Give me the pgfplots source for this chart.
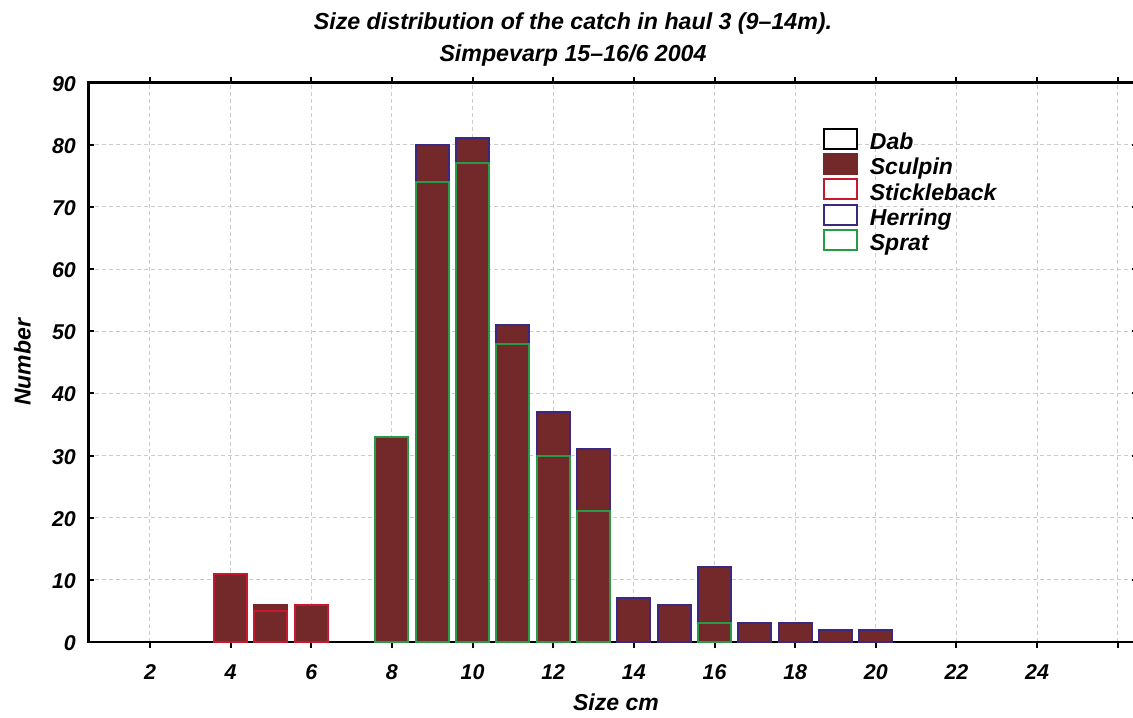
\documentclass[border=0pt]{standalone}
\usepackage{pgfplots}
\pgfplotsset{compat=1.18}
\usepackage{fontspec}
\setmainfont{Liberation Sans}
\definecolor{barfill}{RGB}{115,40,41}
\definecolor{stickred}{RGB}{200,24,48}
\definecolor{herrblue}{RGB}{60,40,128}
\definecolor{spratgreen}{RGB}{40,155,70}
\pgfplotsset{layers/barsfront/.define layer set={axis background,axis grid,main,axis ticks,axis lines,axis tick labels,axis descriptions,axis foreground}{}}
\pgfplotsset{boxlegend/.style={legend image code/.code={\path[draw=none,fill=none] (0pt,0pt) -- (23.5pt,0pt); \draw[line width=1pt,##1] (0.5pt,-2.65pt) rectangle (17pt,7.35pt);}}}
\newcommand{\tickfont}{\bfseries\itshape\fontsize{10.7}{12}\selectfont}
\newcommand{\labfont}{\bfseries\itshape\fontsize{11.5}{13}\selectfont}
\begin{document}
\begin{tikzpicture}
\begin{axis}[
  set layers=barsfront,
  at={(0,0)}, anchor=south west,
  scale only axis, width=524.8pt, height=279.75pt,
  xmin=0.47, xmax=26.5, ymin=0, ymax=90,
  xtick={2,4,...,26},
  xticklabels={2,4,6,8,10,12,14,16,18,20,22,24,{}},
  ytick={0,10,...,90},
  tick align=inside, major tick length=3pt,
  every tick/.style={black, line width=1pt},
  axis line style={line width=1.2pt},
  grid=major,
  major grid style={gray!40, line width=0.5pt, dash pattern=on 2pt off 1.5pt},
  ybar, bar width=0.82, bar shift=0pt,
  /pgf/number format/assume math mode=true,
  xticklabel style={font=\tickfont, anchor=base, inner sep=0pt, yshift=-15.5pt},
  yticklabel style={font=\tickfont, anchor=base east, inner sep=0pt, xshift=-6pt, yshift=-4.3pt},
  xlabel={Size cm},
  xlabel style={font=\labfont, at={(axis description cs:0.5027,0)}, anchor=base, yshift=-34pt},
  ylabel={Number},
  ylabel style={font=\labfont, at={(axis description cs:-0.0628,0.5)}, anchor=center},
  legend style={at={(axis description cs:0.6995,0.9194)}, anchor=north west,
    draw=none, fill=none, inner sep=0pt, row sep=-0.5pt, font=\labfont,
    nodes={inner sep=0pt, text height=8.2pt, text depth=2.3pt}},
  legend cell align=left,
]
\addlegendimage{boxlegend, draw=black, fill=white}
\addlegendimage{boxlegend, draw=barfill, fill=barfill}
\addlegendimage{boxlegend, draw=stickred, fill=white}
\addlegendimage{boxlegend, draw=herrblue, fill=white}
\addlegendimage{boxlegend, draw=spratgreen, fill=white}
% Dab: zero counts drawn as flat bars
\addplot[forget plot, draw=black, fill=none, line width=1.5pt] coordinates
  {(1,0) (2,0) (3,0) (7,0) (21,0) (22,0) (23,0) (24,0) (25,0)};
% Sculpin (top of stack)
\addplot[forget plot, draw=barfill, fill=barfill, line width=1pt] coordinates
  {(5,6)};
% Stickleback
\addplot[forget plot, draw=stickred, fill=barfill, line width=1pt] coordinates
  {(4,11) (5,5) (6,6)};
% Herring (cumulative top above sprat)
\addplot[forget plot, draw=herrblue, fill=barfill, line width=1pt] coordinates
  {(9,80) (10,81) (11,51) (12,37) (13,31) (14,7) (15,6) (16,12) (17,3) (18,3) (19,2) (20,2)};
% Sprat (bottom of stack)
\addplot[forget plot, draw=spratgreen, fill=barfill, line width=1pt] coordinates
  {(8,33) (9,74) (10,77) (11,48) (12,30) (13,21) (16,3)};
\legend{Dab,Sculpin,Stickleback,Herring,Sprat}
\end{axis}
\node[anchor=base, font=\bfseries\itshape\fontsize{11.6}{13}\selectfont] at (242.35pt,306.35pt) {Size distribution of the catch in haul 3 (9–14m).};
\node[anchor=base, font=\bfseries\itshape\fontsize{11.6}{13}\selectfont] at (242.35pt,290.25pt) {Simpevarp 15–16/6 2004};
\pgfresetboundingbox
\useasboundingbox (-44.15pt,-37.5pt) rectangle (522.35pt,321pt);
\end{tikzpicture}
\end{document}
